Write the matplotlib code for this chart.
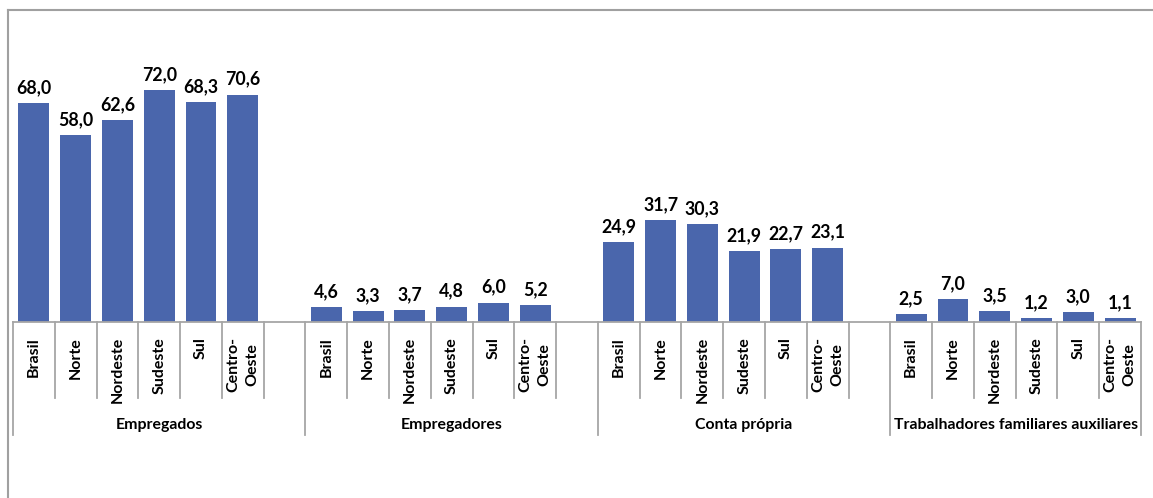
import matplotlib.pyplot as plt
from matplotlib.lines import Line2D

plt.rcParams['font.family'] = ['Lato', 'DejaVu Sans']

# data
groups = ['Empregados', 'Empregadores', 'Conta própria', 'Trabalhadores familiares auxiliares']
regions = ['Brasil', 'Norte', 'Nordeste', 'Sudeste', 'Sul', 'Centro-\nOeste']
empregados = [68.0, 58.0, 62.6, 72.0, 68.3, 70.6]
empregadores = [4.6, 3.3, 3.7, 4.8, 6.0, 5.2]
conta_propria = [24.9, 31.7, 30.3, 21.9, 22.7, 23.1]
familiares = [2.5, 7.0, 3.5, 1.2, 3.0, 1.1]


def fmt(v):
    return f'{v:.1f}'.replace('.', ',')


def main():
    W, H = 1153, 498
    fig = plt.figure(figsize=(W / 100, H / 100), dpi=100)

    base_y = 322
    top_y = 40
    left_x, right_x = 13, 1141
    px_per_unit = 3.22
    ax = fig.add_axes([left_x / W, (H - base_y) / H, (right_x - left_x) / W, (base_y - top_y) / H])

    series = [empregados, empregadores, conta_propria, familiares]
    n_slots = 7 * len(groups) - 1
    blue = '#4A66AC'
    gray = '#A6A6A6'
    ax_h = base_y - top_y

    xs, vals, labels = [], [], []
    for g, vs in enumerate(series):
        for i, v in enumerate(vs):
            xs.append(g * 7 + i + 0.5)
            vals.append(v)
            labels.append(regions[i])

    ax.bar(xs, vals, width=0.74, color=blue, zorder=2)
    for x, v in zip(xs, vals):
        ax.annotate(fmt(v), (x, v), xytext=(0, 5), textcoords='offset points',
                    ha='center', va='bottom', fontsize=12.8, fontweight='bold')

    ax.set_xlim(0, n_slots)
    ax.set_ylim(0, ax_h / px_per_unit)
    for s in ['top', 'right', 'left']:
        ax.spines[s].set_visible(False)
    ax.spines['bottom'].set_color(gray)
    ax.spines['bottom'].set_linewidth(1.3)
    ax.set_xticks([])
    ax.set_yticks([])

    xt = ax.get_xaxis_transform()
    short = 76 / ax_h
    long_ = 113 / ax_h
    for k in range(n_slots + 1):
        is_group = (k % 7 == 0) or k == n_slots
        ln = long_ if is_group else short
        ax.plot([k, k], [0, -ln], color=gray, lw=1.3, transform=xt, clip_on=False)

    for x, lab in zip(xs, labels):
        ax.text(x, -15 / ax_h, lab, transform=xt, rotation=90, ha='center', va='top',
                multialignment='center', fontsize=11.5, fontweight='bold', linespacing=1.45)

    for g, name in enumerate(groups):
        end = g * 7 + 7 if g < len(groups) - 1 else n_slots
        cx = (g * 7 + end) / 2
        ax.text(cx, -103 / ax_h, name, transform=xt, ha='center', va='center',
                fontsize=11.4, fontweight='bold')

    # chart border (top and left visible)
    fig.add_artist(Line2D([8 / W, 1], [1 - 10 / H, 1 - 10 / H], color='#A0A0A0', lw=1.5))
    fig.add_artist(Line2D([8 / W, 8 / W], [0, 1 - 10 / H], color='#A0A0A0', lw=1.5))

    fig.savefig('out.png', dpi=100)


main()
